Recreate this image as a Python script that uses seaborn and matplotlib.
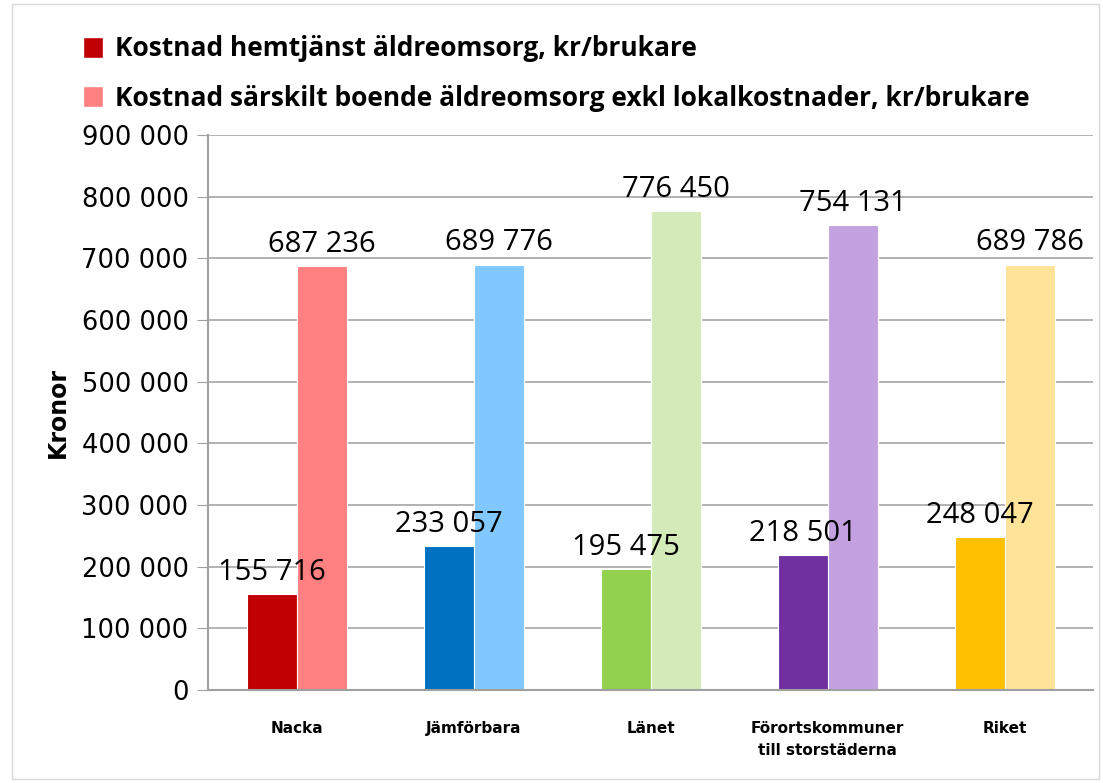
import pandas as pd
import matplotlib.pyplot as plt
import seaborn as sns
from matplotlib.patches import Patch

# Data
categories = ['Nacka', 'Jämförbara', 'Länet', 'Förortskommuner\ntill storstäderna', 'Riket']
hemtjanst = [155716, 233057, 195475, 218501, 248047]
sarskilt = [687236, 689776, 776450, 754131, 689786]
series_names = ['Kostnad hemtjänst äldreomsorg, kr/brukare',
                'Kostnad särskilt boende äldreomsorg exkl lokalkostnader, kr/brukare']

dark_colors = ['#C00000', '#0070C0', '#92D050', '#7030A0', '#FFC000']
light_colors = ['#FF8080', '#80C8FF', '#D3EBB8', '#C3A0E0', '#FFE399']

df = pd.DataFrame({
    'kategori': categories * 2,
    'serie': [series_names[0]] * 5 + [series_names[1]] * 5,
    'kronor': hemtjanst + sarskilt,
})

sns.set_style("white")
plt.rcParams['font.family'] = ['DejaVu Sans']
plt.rcParams['text.color'] = 'black'
plt.rcParams['xtick.color'] = 'black'
plt.rcParams['ytick.color'] = 'black'
plt.rcParams['axes.labelcolor'] = 'black'

fig = plt.figure(figsize=(11.03, 7.83), dpi=100)
ax = fig.add_axes([0.1886, 0.1188, 0.8024, 0.7088])

sns.barplot(data=df, x='kategori', y='kronor', hue='serie', order=categories,
            hue_order=series_names, width=0.565, gap=0.0, legend=False, ax=ax,
            edgecolor='white', linewidth=0.8)

# recolour the bars per category
for i, cont in enumerate(ax.containers):
    cols = dark_colors if i == 0 else light_colors
    for patch, c in zip(cont.patches, cols):
        patch.set_facecolor(c)

# value labels
for cont in ax.containers:
    for patch in cont.patches:
        v = patch.get_height()
        ax.text(patch.get_x() + patch.get_width() / 2, v + 12000,
                f"{int(v):,}".replace(',', ' '), ha='center', va='bottom',
                fontsize=21, color='black', family=['Open Sans', 'DejaVu Sans'])

ax.set_ylim(0, 900000)
ax.set_xlim(-0.5, 4.5)
ax.set_yticks(range(0, 900001, 100000))
ax.set_yticklabels([f"{v:,}".replace(',', ' ') for v in range(0, 900001, 100000)], fontsize=18.5)
ax.set_xticks(range(5))
ax.set_xticklabels(categories, fontsize=11, fontweight='bold', linespacing=1.6)
ax.tick_params(axis='x', length=0, pad=22)
ax.tick_params(axis='y', length=8, color='#A0A0A0', pad=6, direction='out', left=True)
ax.yaxis.grid(True, color='#A6A6A6', linewidth=1.2)
ax.set_axisbelow(True)
for s in ['top', 'right']:
    ax.spines[s].set_visible(False)
for s in ['left', 'bottom']:
    ax.spines[s].set_color('#A0A0A0')
    ax.spines[s].set_linewidth(1.5)

ax.set_xlabel('')
ax.set_ylabel('Kronor', fontsize=17, fontweight='bold', labelpad=8)

handles = [Patch(facecolor=dark_colors[0]), Patch(facecolor=light_colors[0])]
fig.legend(handles, series_names, loc='upper left', bbox_to_anchor=(0.054, 0.985),
           frameon=False, handlelength=0.75, handleheight=0.85,
           handletextpad=0.45, labelspacing=0.85,
           prop={'weight': 'bold', 'size': 19, 'family': ['Open Sans', 'DejaVu Sans']})

fig.patches.append(plt.Rectangle((0.011, 0.005), 0.985, 0.99, transform=fig.transFigure,
                                 fill=False, edgecolor='#D9D9D9', linewidth=1))

plt.savefig('out.png', dpi=100)
